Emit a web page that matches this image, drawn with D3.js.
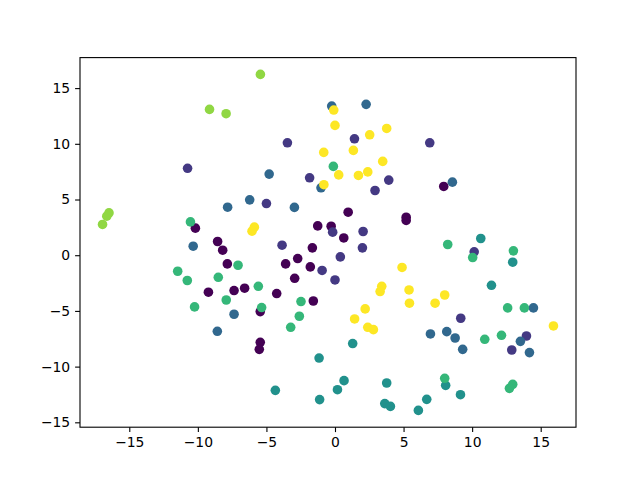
<!DOCTYPE html>
<html>
<head>
<meta charset="utf-8">
<script src="https://cdn.jsdelivr.net/npm/d3@7"></script>
<style>
  html, body { margin: 0; padding: 0; background: #fff; }
  svg { display: block; }
  text { font-family: "DejaVu Sans", sans-serif; }
</style>
</head>
<body>
<div id="chart"></div>
<script>
// ---- data ----
const classColors = ["#440154", "#443983", "#31688e", "#21918c", "#35b779", "#90d743", "#fde725"];

const class0 = [[-10.18,2.43],[-8.56,1.23],[-8.19,0.45],[-7.85,-0.78],[-3.6,-0.78],[-2.72,-0.3],[-1.65,0.66],[-1.8,-1.05],[-2.94,-2.07],[-9.23,-3.32],[-7.36,-3.17],[-6.59,-2.96],[-4.25,-3.44],[-1.58,-4.11],[-5.45,-5.06],[-1.26,2.63],[-0.28,2.6],[0.96,3.86],[5.19,3.41],[5.19,3.12],[0.64,1.55],[7.93,6.17],[-5.45,-7.82],[-5.52,-8.45]];
const class1 = [[-10.75,7.8],[-3.47,10.09],[-1.85,6.95],[1.42,10.45],[6.91,10.09],[3.92,6.74],[-5.0,4.64],[-3.86,0.9],[-0.94,-1.37],[2.92,5.81],[-0.17,2.07],[2.05,2.13],[2.0,0.66],[0.39,-0.15],[0.0,-2.22],[10.15,0.3],[9.17,-5.66],[13.96,-7.25],[12.89,-8.51]];
const class2 = [[-0.24,13.39],[2.27,13.54],[-4.8,7.28],[-1.02,6.05],[-6.22,4.97],[-7.83,4.31],[-2.96,4.29],[-10.34,0.81],[8.56,6.56],[6.96,-7.07],[8.15,-6.86],[8.76,-7.43],[9.31,-8.45],[14.47,-4.73],[13.52,-7.73],[14.18,-8.74],[-7.36,-5.3],[-8.58,-6.83]];
const class3 = [[1.29,-7.93],[0.66,-11.26],[0.18,-12.07],[3.77,-11.47],[3.63,-13.32],[4.04,-13.57],[6.69,-12.94],[6.08,-13.93],[8.07,-11.68],[10.63,1.5],[12.96,-0.63],[11.41,-2.7],[9.15,-12.52],[-1.16,-9.23],[-4.35,-12.13],[-1.12,-12.96]];
const class4 = [[-0.12,7.97],[-10.54,2.99],[-11.47,-1.44],[-10.77,-2.27],[-7.07,-0.9],[-8.51,-1.98],[-5.59,-2.79],[-7.93,-4.02],[-2.48,-4.16],[-5.35,-4.7],[-10.24,-4.64],[8.22,0.96],[10.04,-0.21],[13.01,0.39],[12.59,-4.73],[13.81,-4.73],[10.92,-7.55],[12.14,-7.19],[12.96,-11.59],[12.72,-11.95],[8.0,-11.05],[-2.6,-5.48],[-3.23,-6.47]];
const class5 = [[-5.44,16.23],[-9.15,13.09],[-7.94,12.7],[-16.48,3.8],[-16.64,3.5],[-16.95,2.76]];
const class6 = [[-0.82,9.23],[-0.81,6.33],[-0.09,13.03],[0.0,11.65],[3.77,11.38],[2.53,10.81],[1.34,9.41],[3.48,8.42],[0.27,7.21],[1.71,7.16],[2.39,7.48],[-5.88,2.52],[-6.05,2.16],[4.89,-1.1],[3.41,-2.79],[3.29,-3.26],[5.4,-3.12],[8.0,-3.57],[2.2,-4.82],[5.43,-4.31],[7.3,-4.31],[1.43,-5.72],[2.39,-6.47],[2.8,-6.68],[15.93,-6.35]];

const xTicks = [-15, -10, -5, 0, 5, 10, 15];
const yTicks = [-15, -10, -5, 0, 5, 10, 15];

// ---- layout ----
const W = 640, H = 480;
const mLeft = 80, mRight = 576, mTop = 57.6, mBottom = 427.2;

const classes = [class0, class1, class2, class3, class4, class5, class6];
const points = [];
classes.forEach((arr, ci) => arr.forEach(p => points.push({x: p[0], y: p[1], c: ci})));

function padded(ext) {
  const m = (ext[1] - ext[0]) * 0.05;
  return [ext[0] - m, ext[1] + m];
}
const x = d3.scaleLinear().domain(padded(d3.extent(points, d => d.x))).range([mLeft, mRight]);
const y = d3.scaleLinear().domain(padded(d3.extent(points, d => d.y))).range([mBottom, mTop]);

const svg = d3.select("#chart").append("svg").attr("width", W).attr("height", H);
svg.append("rect").attr("width", W).attr("height", H).attr("fill", "#fff");

const fmt = d => (d < 0 ? "\u2212" + Math.abs(d) : String(d));

svg.append("g")
  .selectAll("circle")
  .data(points)
  .join("circle")
  .attr("cx", d => x(d.x))
  .attr("cy", d => y(d.y))
  .attr("r", 4.8)
  .attr("fill", d => classColors[d.c]);

// frame
svg.append("rect")
  .attr("x", mLeft).attr("y", mTop)
  .attr("width", mRight - mLeft).attr("height", mBottom - mTop)
  .attr("fill", "none").attr("stroke", "#000").attr("stroke-width", 1.1);

const xAxis = svg.append("g")
  .attr("transform", `translate(0,${mBottom})`)
  .call(d3.axisBottom(x).tickValues(xTicks).tickFormat(fmt).tickSize(4.9).tickPadding(4.9));
const yAxis = svg.append("g")
  .attr("transform", `translate(${mLeft},0)`)
  .call(d3.axisLeft(y).tickValues(yTicks).tickFormat(fmt).tickSize(4.9).tickPadding(4.9));

[xAxis, yAxis].forEach(g => {
  g.select(".domain").remove();
  g.selectAll(".tick line").attr("stroke", "#000").attr("stroke-width", 1.1);
  g.selectAll(".tick text")
    .attr("fill", "#000")
    .style("font-family", "'DejaVu Sans', sans-serif")
    .style("font-size", "13.9px");
});
</script>
</body>
</html>
